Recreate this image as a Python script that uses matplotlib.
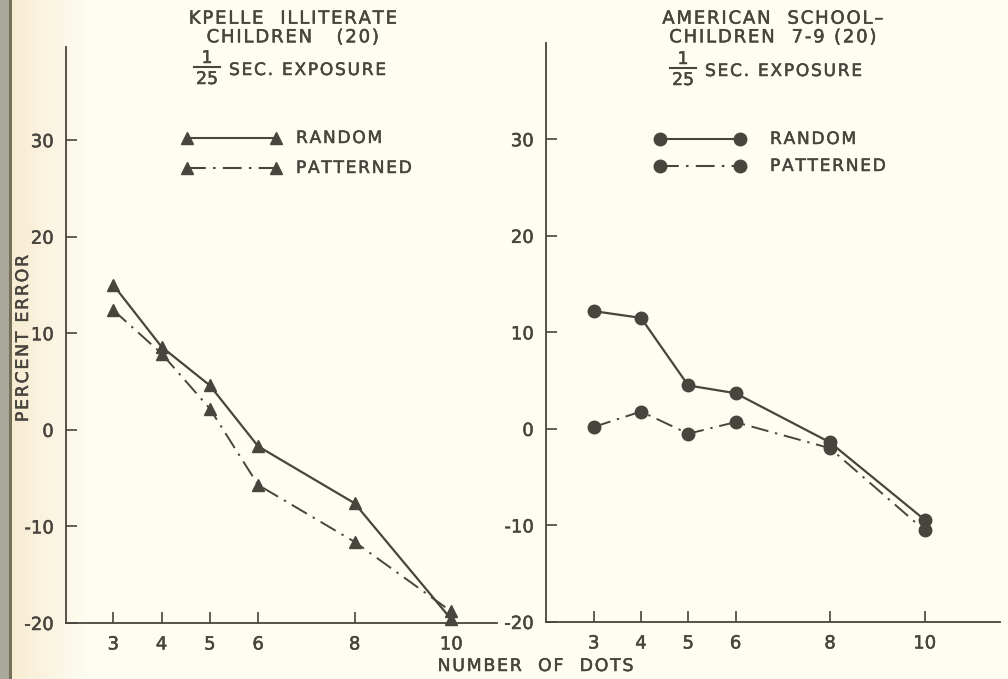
import numpy as np
import matplotlib.pyplot as plt
import matplotlib.patheffects as pe
from matplotlib.lines import Line2D

# data
dots = [3, 4, 5, 6, 8, 10]
kpelle_random = [15.0, 8.6, 4.6, -1.7, -7.6, -19.6]
kpelle_patterned = [12.4, 7.9, 2.2, -5.7, -11.6, -18.8]
american_random = [12.2, 11.5, 4.5, 3.7, -1.4, -9.4]
american_patterned = [0.2, 1.8, -0.5, 0.7, -2.0, -10.5]
yticks = [-20, -10, 0, 10, 20, 30]
xtick_labels = ["3", "4", "5", "6", "8", "10"]

ink = "#48443e"
plt.rcParams['font.family'] = ['DejaVu Sans']
# slightly heavier strokes, like the inked lettering
bold = [pe.withStroke(linewidth=0.35, foreground=ink)]

W, H = 1008, 679
fig = plt.figure(figsize=(10.08, 6.79), dpi=100)
fig.patch.set_facecolor("#fefdf1")

# paper background with the dark binding edge on the left
bg = fig.add_axes([0, 0, 1, 1], zorder=-10)
xs = np.arange(W)
img = np.ones((1, W, 3))
img[0] = np.array([254, 253, 241]) / 255
warm = np.clip(1 - (xs - 12) / 75, 0, 1)[:, None]
img[0] = img[0] * (1 - 0.55 * warm) + np.array([243, 222, 186]) / 255 * 0.55 * warm
img[0, :9] = np.array([170, 168, 152]) / 255
img[0, 9:12] = np.array([118, 110, 88]) / 255
bg.imshow(img, aspect='auto', extent=[0, 1, 0, 1])
bg.axis('off')

dashdot = (0, (9, 3.5, 1.2, 3.5))


def sp(s):
    # widen letter spacing a little, like the hand lettering
    return "\u200a".join(s)


def fx(px):
    return px / W


def fy(py):
    return 1 - py / H


def style_axes(ax, xlim, ylim):
    ax.set_xlim(*xlim)
    ax.set_ylim(*ylim)
    ax.patch.set_alpha(0)
    for s in ['top', 'right']:
        ax.spines[s].set_visible(False)
    for s in ['left', 'bottom']:
        ax.spines[s].set_color(ink)
        ax.spines[s].set_linewidth(1.3)
    ax.set_xticks(dots)
    ax.set_xticklabels(xtick_labels)
    ax.set_yticks(yticks)
    ax.set_yticklabels([str(v) if v >= 0 else "-" + str(-v) for v in yticks])
    ax.tick_params(direction='in', length=8, width=1.2, color=ink,
                   labelcolor=ink, labelsize=13, pad=9)
    for t in ax.get_xticklabels() + ax.get_yticklabels():
        t.set_path_effects(bold)


ax1 = fig.add_axes([0.0655, 0.0825, 0.4275, 0.849])
style_axes(ax1, (2.02, 10.95), (-20, 39.7))
ax1.plot(dots, kpelle_random, color=ink, lw=1.6, marker='^', ms=9, clip_on=False)
ax1.plot(dots, kpelle_patterned, color=ink, lw=1.4, ls=dashdot, marker='^', ms=9, clip_on=False)

ax2 = fig.add_axes([0.5417, 0.084, 0.45, 0.853])
style_axes(ax2, (1.99, 11.59), (-20, 40))
ax2.plot(dots, american_random, color=ink, lw=1.6, marker='o', ms=9, clip_on=False)
ax2.plot(dots, american_patterned, color=ink, lw=1.4, ls=dashdot, marker='o', ms=9, clip_on=False)

# titles
tkw = dict(color=ink, fontsize=13, ha='center', va='center', linespacing=1.05,
           path_effects=bold)
fig.text(fx(292), fy(28), sp("KPELLE  ILLITERATE") + "\n" + sp("CHILDREN   (20)"), **tkw)
fig.text(fx(772), fy(28), sp("AMERICAN  SCHOOL\u2013") + "\n" + sp("CHILDREN  7-9 (20)"), **tkw)


def exposure(xc, y):
    # stacked 1/25 fraction followed by the text
    fig.text(fx(xc), fy(y - 12), "1", color=ink, fontsize=12.5, ha='center',
             va='center', path_effects=bold)
    fig.add_artist(Line2D([fx(xc - 13), fx(xc + 13)], [fy(y - 3), fy(y - 3)],
                          color=ink, lw=1.5, transform=fig.transFigure))
    fig.text(fx(xc), fy(y + 9), "25", color=ink, fontsize=12.5, ha='center',
             va='center', path_effects=bold)
    fig.text(fx(xc + 22), fy(y), sp("SEC. EXPOSURE"), color=ink, fontsize=12.3,
             ha='left', va='center', path_effects=bold)


exposure(207, 70)
exposure(683, 71)


# hand-drawn style legends
def legend_row(marker, x0, x1, xt, y, ls, label):
    fig.add_artist(Line2D([fx(x0), fx(x1)], [fy(y), fy(y)], color=ink, lw=1.5, ls=ls,
                          marker=marker, ms=9, transform=fig.transFigure))
    fig.text(fx(xt), fy(y), sp(label), color=ink, fontsize=12.3, va='center',
             ha='left', path_effects=bold)


legend_row('^', 187, 276, 296, 138, '-', "RANDOM")
legend_row('^', 187, 276, 296, 168, dashdot, "PATTERNED")
legend_row('o', 660, 740, 770, 139, '-', "RANDOM")
legend_row('o', 660, 740, 770, 166, dashdot, "PATTERNED")

fig.text(fx(23), fy(338), sp("PERCENT ERROR"), rotation=90, color=ink,
         fontsize=12.5, ha='center', va='center', path_effects=bold)
fig.text(fx(536), fy(666), sp("NUMBER  OF  DOTS"), color=ink,
         fontsize=12.5, ha='center', va='center', path_effects=bold)

fig.savefig("out.png", dpi=100, facecolor=fig.get_facecolor())
